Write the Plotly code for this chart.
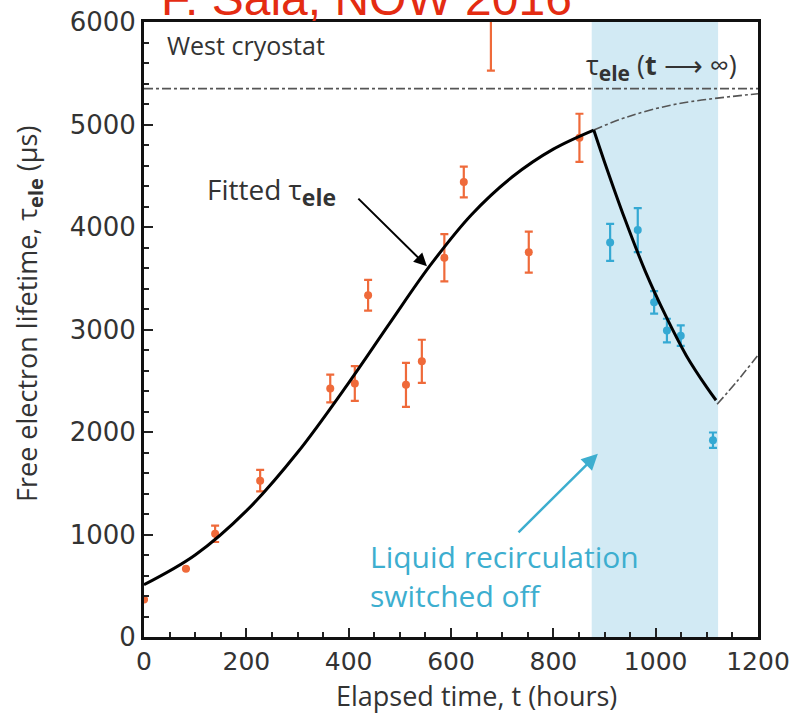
import plotly.graph_objects as go

# ---- data ----
# before recirculation stop (orange)
t_on = [0, 82, 139, 227, 364, 412, 438, 512, 543, 587, 625, 678, 752, 851]
tau_on = [365, 665, 1007, 1525, 2424, 2473, 3335, 2460, 2690, 3700, 4440, 6060, 3754, 4870]
err_on = [0, 0, 80, 105, 135, 170, 150, 215, 210, 230, 150, 535, 200, 235]

# after recirculation stop (blue)
t_off = [911, 965, 997, 1022, 1049, 1112]
tau_off = [3850, 3970, 3265, 2990, 2940, 1920]
err_off = [180, 215, 110, 115, 100, 75]

# fitted curve (rise phase)
fit_rise_t = [0, 100, 200, 300, 400, 480, 560, 640, 720, 800, 879]
fit_rise_v = [510, 800, 1230, 1800, 2480, 3060, 3630, 4120, 4490, 4760, 4946]
# fitted curve (decay phase)
fit_decay_t = [879, 900, 940, 980, 1020, 1060, 1100, 1118]
fit_decay_v = [4946, 4635, 4075, 3565, 3130, 2745, 2435, 2310]
# extrapolations (dash-dot)
ext1_t = [879, 944, 1041, 1200]
ext1_v = [4946, 5073, 5200, 5300]
ext2_t = [1120, 1160, 1200]
ext2_v = [2270, 2500, 2750]
tau_inf = 5350

shade_t = [875, 1122]

ORANGE = "#EF6A3A"
BLUE = "#35A9D3"
CYAN_TXT = "#3DAECF"
TXT = "#333333"

fig = go.Figure()

fig.add_shape(type="rect", xref="x", yref="paper", x0=shade_t[0], x1=shade_t[1],
              y0=0, y1=1, fillcolor="#D2EAF4", line_width=0, layer="below")

fig.add_trace(go.Scatter(x=[0, 1200], y=[tau_inf, tau_inf], mode="lines",
                         line=dict(color="#555555", width=1.6, dash="dashdot")))
fig.add_trace(go.Scatter(x=ext1_t, y=ext1_v, mode="lines",
                         line=dict(color="#555555", width=1.6, dash="dashdot", shape="spline")))
fig.add_trace(go.Scatter(x=ext2_t, y=ext2_v, mode="lines",
                         line=dict(color="#555555", width=1.6, dash="dashdot", shape="spline")))

fig.add_trace(go.Scatter(x=t_on, y=tau_on, mode="markers",
                         marker=dict(color=ORANGE, size=8),
                         error_y=dict(type="data", array=err_on, color=ORANGE,
                                      thickness=2.2, width=4)))
fig.add_trace(go.Scatter(x=t_off, y=tau_off, mode="markers",
                         marker=dict(color=BLUE, size=8),
                         error_y=dict(type="data", array=err_off, color=BLUE,
                                      thickness=2.2, width=4)))

fig.add_trace(go.Scatter(x=fit_rise_t, y=fit_rise_v, mode="lines",
                         line=dict(color="black", width=3, shape="spline", smoothing=1.0)))
fig.add_trace(go.Scatter(x=fit_decay_t, y=fit_decay_v, mode="lines",
                         line=dict(color="black", width=3, shape="spline", smoothing=1.0)))

W, H = 799, 715
L, R, T, B = 144, 41, 22, 78
pw, ph = W - L - R, H - T - B

def px(xp):
    return (xp - L) / pw

def py(yp):
    return (H - B - yp) / ph

SUB = '<sub><span style="font-size:{}px"><b>ele</b></span></sub>'

ann = []
ann.append(dict(text="F. Sala, NOW 2016", xref="paper", yref="paper",
                x=px(366), y=py(27), xanchor="center", yanchor="bottom",
                showarrow=False, font=dict(family="Liberation Sans", size=48, color="#E42C12")))
ann.append(dict(text="West cryostat", xref="paper", yref="paper", x=px(165), y=py(45),
                xanchor="left", yanchor="middle", showarrow=False,
                font=dict(family="Open Sans", size=25, color=TXT)))
ann.append(dict(text="τ" + SUB.format(21) + " (<b>t</b> ⟶ ∞)", xref="paper", yref="paper",
                x=px(661), y=py(66), xanchor="center", yanchor="middle", showarrow=False,
                font=dict(family="Open Sans", size=27, color=TXT)))
ann.append(dict(text="Fitted τ" + SUB.format(23), xref="paper", yref="paper",
                x=px(205), y=py(192), xanchor="left", yanchor="middle", showarrow=False,
                font=dict(family="Open Sans", size=28, color=TXT)))
ann.append(dict(text="", x=553, y=3617, ax=416, ay=4291, xref="x", yref="y",
                axref="x", ayref="y", showarrow=True, arrowhead=2, arrowsize=1.3,
                arrowwidth=2, arrowcolor="black"))
ann.append(dict(text="Liquid recirculation<br>switched off", xref="paper", yref="paper",
                x=px(368), y=py(576), xanchor="left", yanchor="middle", align="left",
                showarrow=False, font=dict(family="Open Sans", size=30, color=CYAN_TXT)))
ann.append(dict(text="", x=887, y=1789, ax=729, ay=1007, xref="x", yref="y",
                axref="x", ayref="y", showarrow=True, arrowhead=2, arrowsize=1.3,
                arrowwidth=2.5, arrowcolor=CYAN_TXT))
ann.append(dict(text="Elapsed time, t (hours)", xref="paper", yref="paper",
                x=px(476), y=py(695), xanchor="center", yanchor="middle", showarrow=False,
                font=dict(family="Open Sans", size=27, color=TXT)))
ann.append(dict(text="Free electron lifetime, τ" + SUB.format(20) + " (µs)", xref="paper", yref="paper",
                x=px(28), y=py(314), xanchor="center", yanchor="middle", showarrow=False,
                textangle=-90, font=dict(family="Open Sans", size=27, color=TXT)))

fig.update_layout(
    width=W, height=H, margin=dict(l=L, r=R, t=T, b=B, autoexpand=False),
    paper_bgcolor="white", plot_bgcolor="white", showlegend=False,
    annotations=ann,
)
fig.update_xaxes(range=[0, 1200], tickvals=[0, 200, 400, 600, 800, 1000, 1200],
                 ticks="inside", ticklen=9, tickwidth=2, tickcolor="#222", automargin=False,
                 minor=dict(dtick=50, ticks="inside", ticklen=5, tickwidth=1.5, tickcolor="#222"),
                 showgrid=False, zeroline=False, showline=True, linewidth=3, linecolor="#111",
                 mirror=True, tickfont=dict(family="DejaVu Sans", size=25, color=TXT))
fig.update_yaxes(range=[0, 6000], tickvals=[0, 1000, 2000, 3000, 4000, 5000, 6000],
                 ticks="inside", ticklen=9, tickwidth=2, tickcolor="#222", automargin=False,
                 minor=dict(dtick=200, ticks="inside", ticklen=5, tickwidth=1.5, tickcolor="#222"),
                 showgrid=False, zeroline=False, showline=True, linewidth=3, linecolor="#111",
                 mirror=True, tickfont=dict(family="DejaVu Sans", size=26, color=TXT))

fig.write_html("out.html")
